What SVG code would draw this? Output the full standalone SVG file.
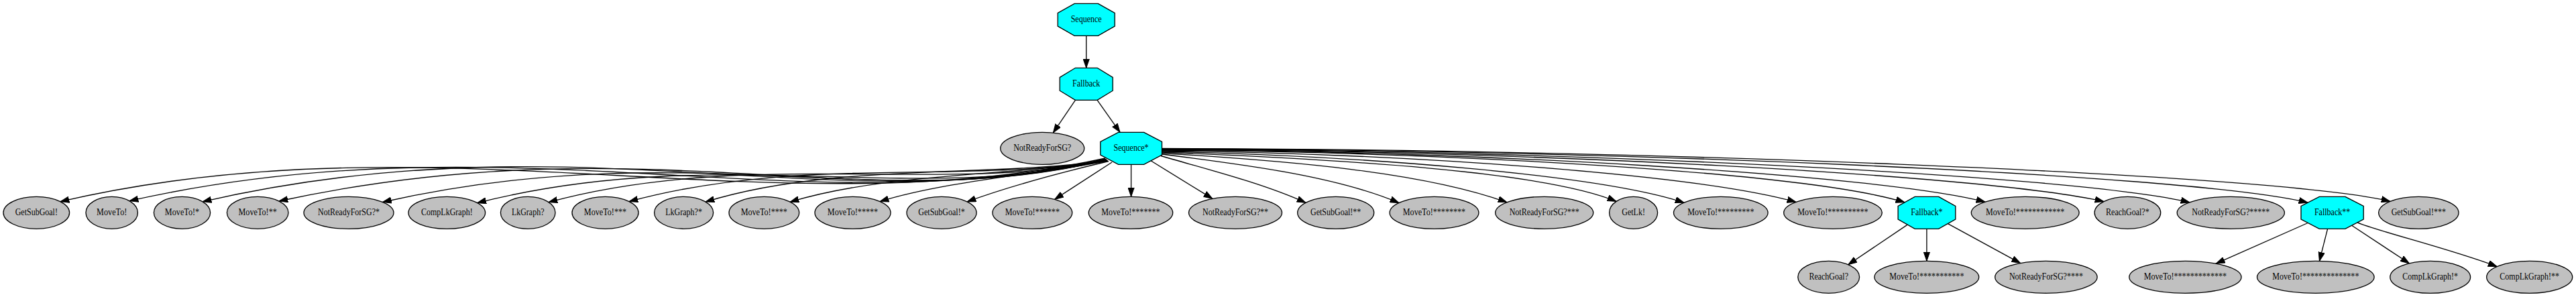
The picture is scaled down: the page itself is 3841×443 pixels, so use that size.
<svg xmlns="http://www.w3.org/2000/svg" width="3841" height="443" viewBox="0 0 3841 443">
<style>
.leaf ellipse{fill:#c0c0c0;stroke:#000;stroke-width:1.33}
.ctl polygon{fill:#00ffff;stroke:#000;stroke-width:1.33}
text{font-family:"Liberation Serif","Times New Roman",serif;font-size:15px;text-anchor:middle;fill:#000}
#edges path{fill:none;stroke:#000;stroke-width:1.33;marker-end:url(#ah)}
</style>
<defs>
<marker id="ah" viewBox="0 0 14 10" refX="13.3" refY="5" markerWidth="14" markerHeight="10" markerUnits="userSpaceOnUse" orient="auto">
<path d="M0,0.4 L13.3,5 L0,9.6 z" fill="#000" stroke="#000" stroke-width="1"/>
</marker>
</defs>
<rect width="3841" height="443" fill="#fff"/>
<g id="edges">
<path d="M1619.7,53.3 L1619.7,101.3"/>
<path d="M1603.4,149.3 L1570.3,198.1"/>
<path d="M1636.1,149.3 L1670,197.3"/>
<path d="M1648,236 C1150,345 650,170 90,300.7"/>
<path d="M1648,237 C1200,340 760,172 193,299.7"/>
<path d="M1649,237.5 C1250,335 860,172 302,300.8"/>
<path d="M1649,238 C1290,328 960,182 416,300"/>
<path d="M1650,238 C1320,322 1030,198 570.4,301.5"/>
<path d="M1650,238.5 C1360,308 1070,212 711.6,302.6"/>
<path d="M1650,239 C1410,290 1110,222 818,301.6"/>
<path d="M1651,239 C1440,275 1190,232 938,300.6"/>
<path d="M1651,239.5 C1470,265 1240,243 1052,301.1"/>
<path d="M1652,240 C1510,262 1320,258 1178,301.2"/>
<path d="M1652,240 C1560,258 1410,270 1312,300.6"/>
<path d="M1653,240.5 C1600,253 1510,276 1442,300.9"/>
<path d="M1658,242 L1572.6,297.4"/>
<path d="M1686.6,245.3 L1686.6,293.3"/>
<path d="M1716,239.8 L1808,296.4"/>
<path d="M1731,232.5 C1790,250 1880,272 1947,302.4"/>
<path d="M1732.4,230 C1850,245 1990,262 2086,302.6"/>
<path d="M1732.4,228.5 C1920,240 2120,256 2247,301.8"/>
<path d="M1732.4,227 C2000,238 2300,255 2410,300.4"/>
<path d="M1732.4,226 C2050,233 2390,262 2511,302.3"/>
<path d="M1732.4,225 C2100,229 2530,260 2678,301.4"/>
<path d="M1732.4,224 C2150,227 2690,256 2840,301.8"/>
<path d="M1732.4,223.5 C2200,225 2800,260 2960,301.2"/>
<path d="M1732.4,223 C2250,224 2960,260 3137,300.6"/>
<path d="M1732.4,222.5 C2300,223 3090,260 3265,301.9"/>
<path d="M1732.4,222 C2350,222 3260,258 3441,302.2"/>
<path d="M1732.4,221.5 C2400,221.5 3390,258 3564,300.4"/>
<path d="M2844.2,335.1 L2755.8,394.7"/>
<path d="M2872.9,341.3 L2872.9,389.3"/>
<path d="M2904.4,333.6 L3012.6,392.6"/>
<path d="M3441.2,332.5 L3304.2,393.2"/>
<path d="M3470.6,341.3 L3458.4,389.4"/>
<path d="M3506.6,336.3 L3592.4,392.8"/>
<path d="M3515,331.9 C3545,345 3650,370 3723.3,397.6"/>
</g>
<g id="n_Sequence" class="ctl"><polygon points="1637.3,5.3 1662.2,19.4 1662.2,39.2 1637.3,53.3 1602.1,53.3 1577.2,39.2 1577.2,19.4 1602.1,5.3"/><text x="1619.7" y="33.3" textLength="46" lengthAdjust="spacingAndGlyphs">Sequence</text></g>
<g id="n_Fallback" class="ctl"><polygon points="1636.1,101.3 1659.2,115.4 1659.2,135.2 1636.1,149.3 1603.4,149.3 1580.2,135.2 1580.2,115.4 1603.4,101.3"/><text x="1619.7" y="129.3" textLength="41.3" lengthAdjust="spacingAndGlyphs">Fallback</text></g>
<g id="n_NotReadyForSG" class="leaf"><ellipse cx="1554.2" cy="221.3" rx="62.5" ry="24"/><text x="1554.2" y="225.3" textLength="86" lengthAdjust="spacingAndGlyphs">NotReadyForSG?</text></g>
<g id="n_Sequence1" class="ctl"><polygon points="1705.6,197.3 1732.5,211.4 1732.5,231.2 1705.6,245.3 1667.6,245.3 1640.8,231.2 1640.8,211.4 1667.6,197.3"/><text x="1686.6" y="225.3" textLength="52" lengthAdjust="spacingAndGlyphs">Sequence*</text></g>
<g id="n_GetSubGoal" class="leaf"><ellipse cx="54.3" cy="317.3" rx="49.3" ry="24"/><text x="54.3" y="321.3" textLength="63.3" lengthAdjust="spacingAndGlyphs">GetSubGoal!</text></g>
<g id="n_MoveTo0" class="leaf"><ellipse cx="166.7" cy="317.3" rx="38.7" ry="24"/><text x="166.7" y="321.3" textLength="45.3" lengthAdjust="spacingAndGlyphs">MoveTo!</text></g>
<g id="n_MoveTo1" class="leaf"><ellipse cx="271.5" cy="317.3" rx="42.1" ry="24"/><text x="271.5" y="321.3" textLength="51.3" lengthAdjust="spacingAndGlyphs">MoveTo!*</text></g>
<g id="n_MoveTo2" class="leaf"><ellipse cx="384.2" cy="317.3" rx="45.8" ry="24"/><text x="384.2" y="321.3" textLength="57.3" lengthAdjust="spacingAndGlyphs">MoveTo!**</text></g>
<g id="n_NotReady1" class="leaf"><ellipse cx="520" cy="317.3" rx="67" ry="24"/><text x="520" y="321.3" textLength="92" lengthAdjust="spacingAndGlyphs">NotReadyForSG?*</text></g>
<g id="n_CompLkGraph" class="leaf"><ellipse cx="666.3" cy="317.3" rx="57.3" ry="24"/><text x="666.3" y="321.3" textLength="76.7" lengthAdjust="spacingAndGlyphs">CompLkGraph!</text></g>
<g id="n_LkGraph" class="leaf"><ellipse cx="787.2" cy="317.3" rx="40.8" ry="24"/><text x="787.2" y="321.3" textLength="48.6" lengthAdjust="spacingAndGlyphs">LkGraph?</text></g>
<g id="n_MoveTo3" class="leaf"><ellipse cx="902.5" cy="317.3" rx="49.5" ry="24"/><text x="902.5" y="321.3" textLength="63.3" lengthAdjust="spacingAndGlyphs">MoveTo!***</text></g>
<g id="n_LkGraph1" class="leaf"><ellipse cx="1019.6" cy="317.3" rx="44" ry="24"/><text x="1019.6" y="321.3" textLength="54.6" lengthAdjust="spacingAndGlyphs">LkGraph?*</text></g>
<g id="n_MoveTo4" class="leaf"><ellipse cx="1139.3" cy="317.3" rx="52.3" ry="24"/><text x="1139.3" y="321.3" textLength="69.3" lengthAdjust="spacingAndGlyphs">MoveTo!****</text></g>
<g id="n_MoveTo5" class="leaf"><ellipse cx="1271.5" cy="317.3" rx="56.5" ry="24"/><text x="1271.5" y="321.3" textLength="75.3" lengthAdjust="spacingAndGlyphs">MoveTo!*****</text></g>
<g id="n_GetSubGoal1" class="leaf"><ellipse cx="1404" cy="317.3" rx="52" ry="24"/><text x="1404" y="321.3" textLength="69.3" lengthAdjust="spacingAndGlyphs">GetSubGoal!*</text></g>
<g id="n_MoveTo6" class="leaf"><ellipse cx="1539.3" cy="317.3" rx="59.4" ry="24"/><text x="1539.3" y="321.3" textLength="81.3" lengthAdjust="spacingAndGlyphs">MoveTo!******</text></g>
<g id="n_MoveTo7" class="leaf"><ellipse cx="1686" cy="317.3" rx="62.7" ry="24"/><text x="1686" y="321.3" textLength="87.3" lengthAdjust="spacingAndGlyphs">MoveTo!*******</text></g>
<g id="n_NotReady2" class="leaf"><ellipse cx="1842" cy="317.3" rx="69.5" ry="24"/><text x="1842" y="321.3" textLength="98" lengthAdjust="spacingAndGlyphs">NotReadyForSG?**</text></g>
<g id="n_GetSubGoal2" class="leaf"><ellipse cx="1991.7" cy="317.3" rx="57" ry="24"/><text x="1991.7" y="321.3" textLength="75.3" lengthAdjust="spacingAndGlyphs">GetSubGoal!**</text></g>
<g id="n_MoveTo8" class="leaf"><ellipse cx="2138.5" cy="317.3" rx="66.4" ry="24"/><text x="2138.5" y="321.3" textLength="93.3" lengthAdjust="spacingAndGlyphs">MoveTo!********</text></g>
<g id="n_NotReady3" class="leaf"><ellipse cx="2302.7" cy="317.3" rx="73" ry="24"/><text x="2302.7" y="321.3" textLength="104" lengthAdjust="spacingAndGlyphs">NotReadyForSG?***</text></g>
<g id="n_GetLk" class="leaf"><ellipse cx="2435.6" cy="317.3" rx="36" ry="24"/><text x="2435.6" y="321.3" textLength="34.7" lengthAdjust="spacingAndGlyphs">GetLk!</text></g>
<g id="n_MoveTo9" class="leaf"><ellipse cx="2565.8" cy="317.3" rx="70.3" ry="24"/><text x="2565.8" y="321.3" textLength="99.3" lengthAdjust="spacingAndGlyphs">MoveTo!*********</text></g>
<g id="n_MoveTo10" class="leaf"><ellipse cx="2733" cy="317.3" rx="73.3" ry="24"/><text x="2733" y="321.3" textLength="105.3" lengthAdjust="spacingAndGlyphs">MoveTo!**********</text></g>
<g id="n_Fallback1" class="ctl"><polygon points="2890.6,293.3 2915.8,307.4 2915.8,327.2 2890.6,341.3 2855.2,341.3 2830.1,327.2 2830.1,307.4 2855.2,293.3"/><text x="2872.9" y="321.3" textLength="47.3" lengthAdjust="spacingAndGlyphs">Fallback*</text></g>
<g id="n_MoveTo12" class="leaf"><ellipse cx="3019.7" cy="317.3" rx="80.4" ry="24"/><text x="3019.7" y="321.3" textLength="117.3" lengthAdjust="spacingAndGlyphs">MoveTo!************</text></g>
<g id="n_ReachGoal1" class="leaf"><ellipse cx="3172.4" cy="317.3" rx="49.3" ry="24"/><text x="3172.4" y="321.3" textLength="64.6" lengthAdjust="spacingAndGlyphs">ReachGoal?*</text></g>
<g id="n_NotReady5" class="leaf"><ellipse cx="3326.3" cy="317.3" rx="80.1" ry="24"/><text x="3326.3" y="321.3" textLength="116" lengthAdjust="spacingAndGlyphs">NotReadyForSG?*****</text></g>
<g id="n_Fallback2" class="ctl"><polygon points="3496.9,293.3 3524.2,307.4 3524.2,327.2 3496.9,341.3 3458.3,341.3 3431,327.2 3431,307.4 3458.3,293.3"/><text x="3477.6" y="321.3" textLength="53.3" lengthAdjust="spacingAndGlyphs">Fallback**</text></g>
<g id="n_GetSubGoal3" class="leaf"><ellipse cx="3606.3" cy="317.3" rx="59.7" ry="24"/><text x="3606.3" y="321.3" textLength="81.3" lengthAdjust="spacingAndGlyphs">GetSubGoal!***</text></g>
<g id="n_ReachGoal" class="leaf"><ellipse cx="2726.7" cy="413.3" rx="45.9" ry="24"/><text x="2726.7" y="417.3" textLength="58.6" lengthAdjust="spacingAndGlyphs">ReachGoal?</text></g>
<g id="n_MoveTo11" class="leaf"><ellipse cx="2872.8" cy="413.3" rx="77.9" ry="24"/><text x="2872.8" y="417.3" textLength="111.3" lengthAdjust="spacingAndGlyphs">MoveTo!***********</text></g>
<g id="n_NotReady4" class="leaf"><ellipse cx="3050.9" cy="413.3" rx="76.2" ry="24"/><text x="3050.9" y="417.3" textLength="110" lengthAdjust="spacingAndGlyphs">NotReadyForSG?****</text></g>
<g id="n_MoveTo13" class="leaf"><ellipse cx="3258.4" cy="413.3" rx="83.6" ry="24"/><text x="3258.4" y="417.3" textLength="123.3" lengthAdjust="spacingAndGlyphs">MoveTo!*************</text></g>
<g id="n_MoveTo14" class="leaf"><ellipse cx="3452.8" cy="413.3" rx="87.3" ry="24"/><text x="3452.8" y="417.3" textLength="129.3" lengthAdjust="spacingAndGlyphs">MoveTo!**************</text></g>
<g id="n_CompLkGraph1" class="leaf"><ellipse cx="3623.7" cy="413.3" rx="59.9" ry="24"/><text x="3623.7" y="417.3" textLength="82.7" lengthAdjust="spacingAndGlyphs">CompLkGraph!*</text></g>
<g id="n_CompLkGraph2" class="leaf"><ellipse cx="3771.7" cy="413.3" rx="64" ry="24"/><text x="3771.7" y="417.3" textLength="88.7" lengthAdjust="spacingAndGlyphs">CompLkGraph!**</text></g>
</svg>
